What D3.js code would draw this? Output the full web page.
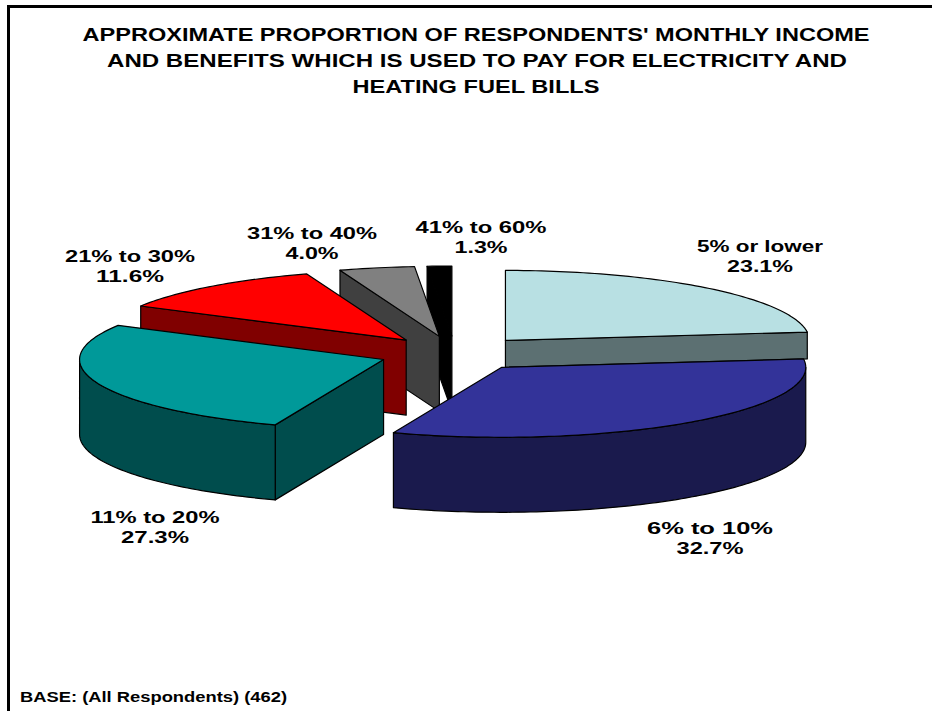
<!DOCTYPE html>
<html>
<head>
<meta charset="utf-8">
<script src="https://cdn.jsdelivr.net/npm/d3@7/dist/d3.min.js"></script>
<style>
html,body{margin:0;padding:0;background:#fff;overflow:hidden}
svg{display:block}
text{font-family:"Liberation Sans",Arial,sans-serif;font-weight:bold;fill:#000}
</style>
</head>
<body>
<script>
const categories = ["5% or lower","6% to 10%","11% to 20%","21% to 30%","31% to 40%","41% to 60%"];
const values = [23.1,32.7,27.3,11.6,4.0,1.3];
const topColors = ["#b8e0e3","#333399","#009999","#ff0000","#808080","#000000"];
const titleLines = [
  "APPROXIMATE PROPORTION OF RESPONDENTS' MONTHLY INCOME",
  "AND BENEFITS WHICH IS USED TO PAY FOR ELECTRICITY AND",
  "HEATING FUEL BILLS"
];
const baseNote = "BASE: (All Respondents) (462)";
const drawOrder = [0,5,4,3,2,1];

const W = 932, H = 711;
const cx = 455, cy = 353.5, rx = 304, ry = 70, depth = 75, explode = 0.25;

const svg = d3.select("body").append("svg").attr("width",W).attr("height",H);
svg.append("rect").attr("x",7).attr("y",5).attr("width",W-7).attr("height",3).attr("fill","#000");
svg.append("rect").attr("x",7).attr("y",5).attr("width",3).attr("height",H-5).attr("fill","#000");

// label layout: [centre x, first baseline, width line 1, width line 2]
const labelLayout = [
  [760,252,126,66],
  [710,534,126,67],
  [155,523,129,68],
  [130,262,130,68],
  [312,239,130,53],
  [481,233,131,53]
];
const titleLayout = [[476,41,787],[477,67,740],[476,93,247]];

const pie = d3.pie().sort(null).value(d=>d)(values);
const xS = d3.scaleLinear().domain([-1,1]).range([-rx,rx]);
const yS = d3.scaleLinear().domain([-1,1]).range([-ry,ry]);
const line = d3.line().curve(d3.curveLinear);

function unit(a){return [Math.sin(a),-Math.cos(a)];}
function origin(s){
  const [mu,mv]=unit((s.startAngle+s.endAngle)/2);
  return [cx+xS(mu)*explode, cy+yS(mv)*explode];
}
function arcPts(a0,a1,ox,oy,dz){
  const n = Math.max(2,Math.ceil((a1-a0)/0.02)), pts=[];
  for(let i=0;i<=n;i++){
    const [u,v]=unit(a0+(a1-a0)*i/n);
    pts.push([ox+xS(u),oy+yS(v)+dz]);
  }
  return pts;
}
const g = svg.append("g");
function poly(pts,fill){
  g.append("path").attr("d",line(pts)+"Z").attr("fill",fill)
    .attr("stroke","#000").attr("stroke-width",1.2).attr("stroke-linejoin","round");
}
drawOrder.forEach(i=>{
  const s=pie[i], a0=s.startAngle, a1=s.endAngle;
  const [ox,oy]=origin(s);
  const top=topColors[i];
  const c=d3.rgb(top);
  const wall=d3.rgb(c.r/2,c.g/2,c.b/2).formatHex();
  // first slice sits behind the second: its wall stops where the second slice's top begins
  const faceDepth = i===0 ? origin(pie[1])[1]-oy : depth;
  // cut faces that look towards the viewer
  if(Math.sin(a0)<0){
    const [u,v]=unit(a0), ex=ox+xS(u), ey=oy+yS(v);
    poly([[ox,oy],[ex,ey],[ex,ey+faceDepth],[ox,oy+faceDepth]],wall);
  }
  if(Math.sin(a1)>0 && a1<Math.PI){
    const [u,v]=unit(a1), ex=ox+xS(u), ey=oy+yS(v);
    poly([[ox,oy],[ex,ey],[ex,ey+faceDepth],[ox,oy+faceDepth]],wall);
  }
  // outer wall, front half only
  const lo=Math.max(a0,Math.PI/2), hi=Math.min(a1,Math.PI*1.5);
  if(hi>lo){
    const t=arcPts(lo,hi,ox,oy,0), b=arcPts(lo,hi,ox,oy,depth).reverse();
    poly(t.concat(b),wall);
  }
  // top face
  poly([[ox,oy]].concat(arcPts(a0,a1,ox,oy,0)),top);
});

function fitted(str,x,y,w,size){
  svg.append("text").attr("x",x).attr("y",y).attr("text-anchor","middle")
    .attr("font-size",size).attr("textLength",w).attr("lengthAdjust","spacingAndGlyphs").text(str);
}
titleLines.forEach((t,i)=>fitted(t,titleLayout[i][0],titleLayout[i][1],titleLayout[i][2],17.5));
categories.forEach((c,i)=>{
  const [x,y,w1,w2]=labelLayout[i];
  fitted(c,x,y,w1,16.5);
  fitted(values[i].toFixed(1)+"%",x,y+20,w2,16.5);
});
svg.append("text").attr("x",20).attr("y",702).attr("font-size",14)
  .attr("textLength",267).attr("lengthAdjust","spacingAndGlyphs").text(baseNote);
</script>
</body>
</html>
